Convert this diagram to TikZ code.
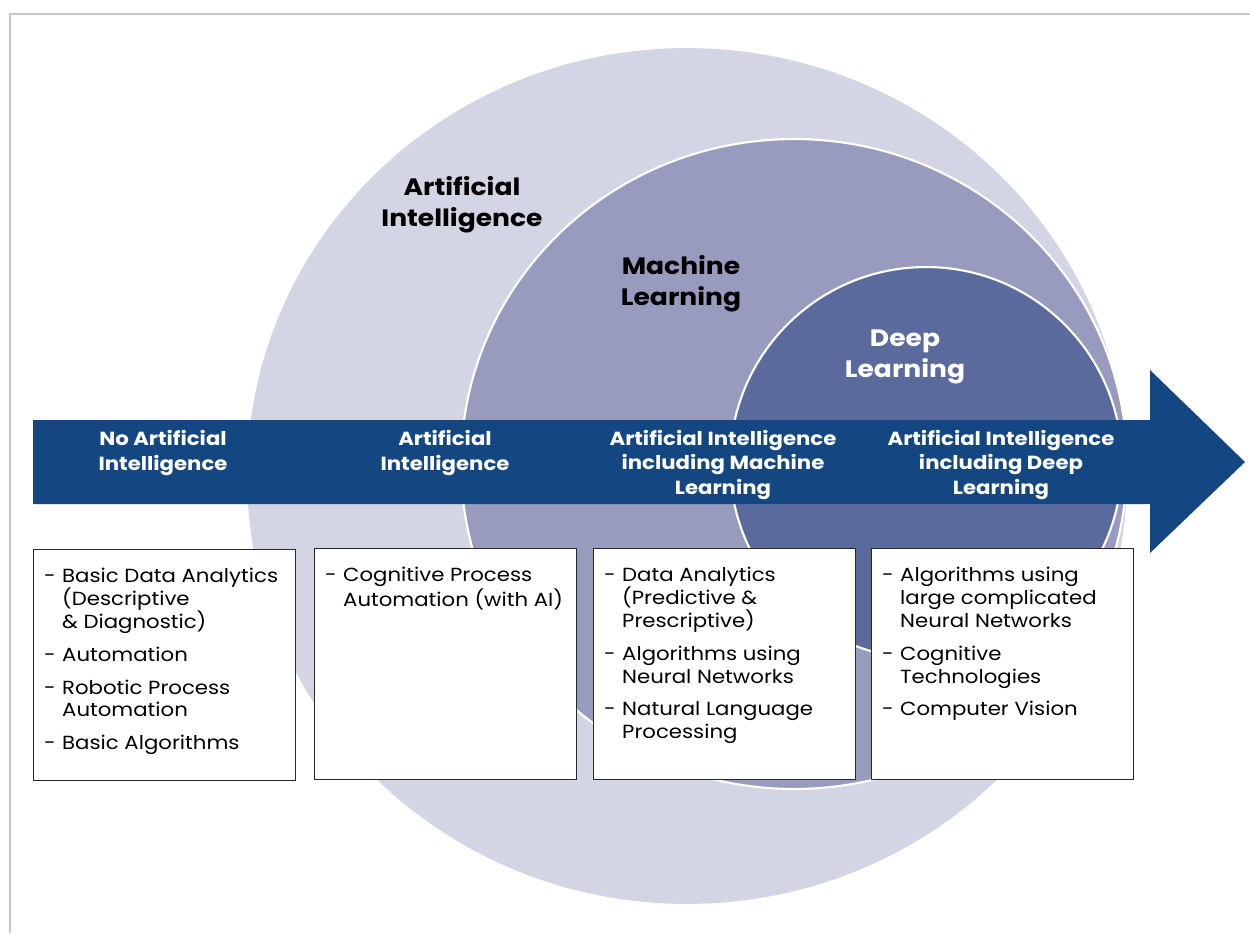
\documentclass[tikz,border=0pt]{standalone}
\usepackage{fontspec}
\setmainfont{Poppins}[FakeStretch=1.12]
\usetikzlibrary{positioning}
\definecolor{aifill}{RGB}{211,213,229}
\definecolor{mlfill}{RGB}{152,155,189}
\definecolor{dlfill}{RGB}{91,106,156}
\definecolor{stageblue}{RGB}{20,71,129}
\definecolor{framegray}{RGB}{200,200,200}
\definecolor{boxline}{RGB}{40,40,40}
\newcommand{\itm}[1]{\par\hangindent=0.36cm\hangafter=1\noindent\makebox[0.36cm][l]{\scalebox{0.75}[1]{–}}#1}
\newcommand{\listpage}[1]{\begin{minipage}[t][4.2cm][t]{4.82cm}\setlength{\parskip}{0.2cm}\raggedright\vspace{0.16cm}#1\end{minipage}}
\tikzset{
  circlelabel/.style={font=\fontsize{13.5}{17.6}\selectfont\bfseries, align=center},
  stagelabel/.style={font=\fontsize{10.8}{14.2}\selectfont\bfseries, text=white, align=center},
  listbox/.style={draw=boxline, line width=0.8pt, fill=white, anchor=north west,
    inner xsep=0.21cm, inner ysep=0.21cm, font=\fontsize{10.8}{13}\selectfont}
}
\begin{document}
\begin{tikzpicture}[x=0.02cm, y=-0.02cm]
\useasboundingbox (0,0) rectangle (1250,933);
\draw[framegray, line width=1.4pt] (10,933) -- (10,14) -- (1250,14);
\fill[aifill] (687,476) ellipse [x radius=8.8cm, y radius=8.56cm];
\filldraw[fill=mlfill, draw=white, line width=1.2pt] (794,464) ellipse [x radius=6.66cm, y radius=6.5cm];
\filldraw[fill=dlfill, draw=white, line width=1.2pt] (926,463) circle [radius=3.92cm];
\node[circlelabel] (aiName) at (462,205) {Artificial\\Intelligence};
\node[circlelabel] (mlName) at (681,284) {Machine\\Learning};
\node[circlelabel, text=white] (dlName) at (905,357) {Deep\\Learning};
\fill[stageblue] (33,420) -- (1150,420) -- (1150,370) -- (1245,462) -- (1150,553) -- (1150,504) -- (33,504) -- cycle;
\foreach \name/\x/\y/\txt in {noAI/163/453/{No Artificial\\Intelligence},
    withAI/445/453/{Artificial\\Intelligence},
    withML/723/465/{Artificial Intelligence\\including Machine\\Learning},
    withDL/1001/465/{Artificial Intelligence\\including Deep\\Learning}}
  \node[stagelabel] (\name) at (\x,\y) {\txt};
\node[listbox] (noAIList) at (33,549) {\listpage{%
  \itm{Basic Data Analytics\newline(Descriptive\newline\&~Diagnostic)}
  \itm{Automation}
  \itm{Robotic Process\newline Automation}
  \itm{Basic Algorithms}}};
\node[listbox] (withAIList) at (314,548) {\listpage{%
  \itm{Cognitive Process\newline Automation (with AI)}}};
\node[listbox] (withMLList) at (593,548) {\listpage{%
  \itm{Data Analytics\newline(Predictive \&\newline Prescriptive)}
  \itm{Algorithms using\newline Neural Networks}
  \itm{Natural Language\newline Processing}}};
\node[listbox] (withDLList) at (871,548) {\listpage{%
  \itm{Algorithms using\newline large complicated\newline Neural Networks}
  \itm{Cognitive\newline Technologies}
  \itm{Computer Vision}}};
\end{tikzpicture}
\end{document}
